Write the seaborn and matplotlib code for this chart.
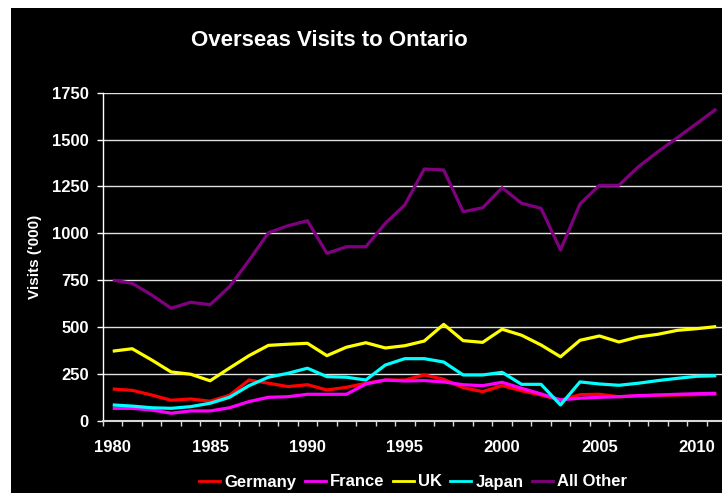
import matplotlib
matplotlib.use("Agg")
import matplotlib.pyplot as plt
import pandas as pd
import seaborn as sns
from matplotlib.patches import Rectangle
from matplotlib.lines import Line2D
from matplotlib.ticker import FixedLocator, MultipleLocator

# Overseas visits to Ontario, thousands of visits per year
years = list(range(1980, 2012))
germany = [169, 162, 137, 109, 116, 104, 136, 217, 200, 182, 192, 164, 178, 200, 217, 217,
           244, 221, 176, 155, 187, 160, 137, 110, 139, 141, 128, 132, 136, 137, 139, 143]
france = [66, 66, 57, 40, 52, 52, 69, 102, 125, 128, 141, 141, 141, 196, 217, 212,
          214, 207, 192, 187, 205, 173, 143, 111, 120, 125, 128, 134, 137, 141, 144, 146]
uk = [371, 384, 324, 260, 248, 213, 281, 347, 402, 408, 413, 347, 392, 416, 388, 400,
      425, 514, 427, 418, 488, 456, 404, 341, 429, 452, 420, 447, 461, 482, 491, 502]
japan = [84, 78, 69, 66, 75, 93, 125, 187, 232, 253, 280, 235, 232, 217, 297, 331,
         331, 313, 244, 244, 258, 194, 194, 84, 207, 196, 189, 200, 214, 226, 237, 240]
all_other = [750, 733, 671, 600, 632, 619, 715, 855, 1003, 1040, 1067, 893, 928, 928, 1053, 1151,
             1343, 1338, 1115, 1136, 1243, 1160, 1133, 911, 1156, 1256, 1256, 1355, 1435, 1510, 1586, 1663]

series_names = ["Germany", "France", "UK", "Japan", "All Other"]
series_colors = ["#ff0000", "#ff00ff", "#ffff00", "#00ffff", "#800080"]
y_ticks = [0, 250, 500, 750, 1000, 1250, 1500, 1750]
x_labels = [1980, 1985, 1990, 1995, 2000, 2005, 2010]

df = pd.concat(
    [pd.DataFrame({"Year": years, "Visits": vals, "Series": name})
     for name, vals in zip(series_names, [germany, france, uk, japan, all_other])],
    ignore_index=True,
)

plt.rcParams["font.family"] = ["Liberation Sans", "DejaVu Sans"]
plt.rcParams["font.weight"] = "bold"

W, H = 722, 493
fig = plt.figure(figsize=(W / 100, H / 100), dpi=100, facecolor="white")
# black chart area with a thin white margin on top and left
fig.patches.append(Rectangle((11 / W, 0), 1, 1 - 8 / H, transform=fig.transFigure,
                             facecolor="black", edgecolor="none", zorder=-10))

ax_left, ax_right, ax_top, ax_bottom = 103, 726, 92.7, 420.7
ax = fig.add_axes([ax_left / W, 1 - ax_bottom / H, (ax_right - ax_left) / W, (ax_bottom - ax_top) / H])
ax.set_facecolor("black")

sns.lineplot(data=df, x="Year", y="Visits", hue="Series", hue_order=series_names,
             palette=series_colors, linewidth=2.3, ax=ax, legend=False)
for ln in ax.get_lines():
    ln.set_solid_joinstyle("round")
    ln.set_solid_capstyle("butt")

ax.set_xlim(1979.5, 2011.5)
ax.set_ylim(0, 1750)
ax.yaxis.set_major_locator(FixedLocator(y_ticks))
ax.xaxis.set_major_locator(FixedLocator(x_labels))
ax.xaxis.set_minor_locator(MultipleLocator(1, offset=0.5))
ax.set_yticklabels([str(v) for v in y_ticks])
ax.set_xticklabels([str(v) for v in x_labels])

ax.yaxis.grid(True, color="#e0e0e0", linewidth=1.0)
ax.set_axisbelow(True)
for s in ("top", "right"):
    ax.spines[s].set_visible(False)
ax.spines["left"].set_color("white")
ax.spines["left"].set_linewidth(1.0)
ax.spines["bottom"].set_color("#d8d8d8")
ax.spines["bottom"].set_linewidth(1.5)

ax.tick_params(axis="y", which="major", colors="white", length=4.3, width=1,
               direction="out", pad=6, labelsize=12)
ax.tick_params(axis="x", which="major", length=0, pad=14, labelsize=12, labelcolor="white")
ax.tick_params(axis="x", which="minor", length=3.6, width=1, color="#d8d8d8", direction="out")
for lab in ax.get_xticklabels() + ax.get_yticklabels():
    lab.set_fontweight("bold")

ax.set_xlabel("")
ax.set_ylabel("")
fig.text(35 / W, 1 - 256.7 / H, "Visits ('000)", rotation=90, ha="center", va="center",
         color="white", fontsize=11, fontweight="bold")

fig.text(329 / W, 1 - 41 / H, "Overseas Visits to Ontario", ha="center", va="center",
         color="white", fontsize=16, fontweight="bold")

handles = [Line2D([], [], color=c, linewidth=2) for c in series_colors]
leg = fig.legend(handles, series_names, loc="center", bbox_to_anchor=(413 / W, 1 - 482 / H),
                 ncol=5, frameon=False, handlelength=1.26, handletextpad=0.24,
                 columnspacing=0.52, borderaxespad=0, borderpad=0,
                 prop={"size": 12, "weight": "bold"})
for t in leg.get_texts():
    t.set_color("white")

fig.savefig("out.png", dpi=100, facecolor=fig.get_facecolor())
